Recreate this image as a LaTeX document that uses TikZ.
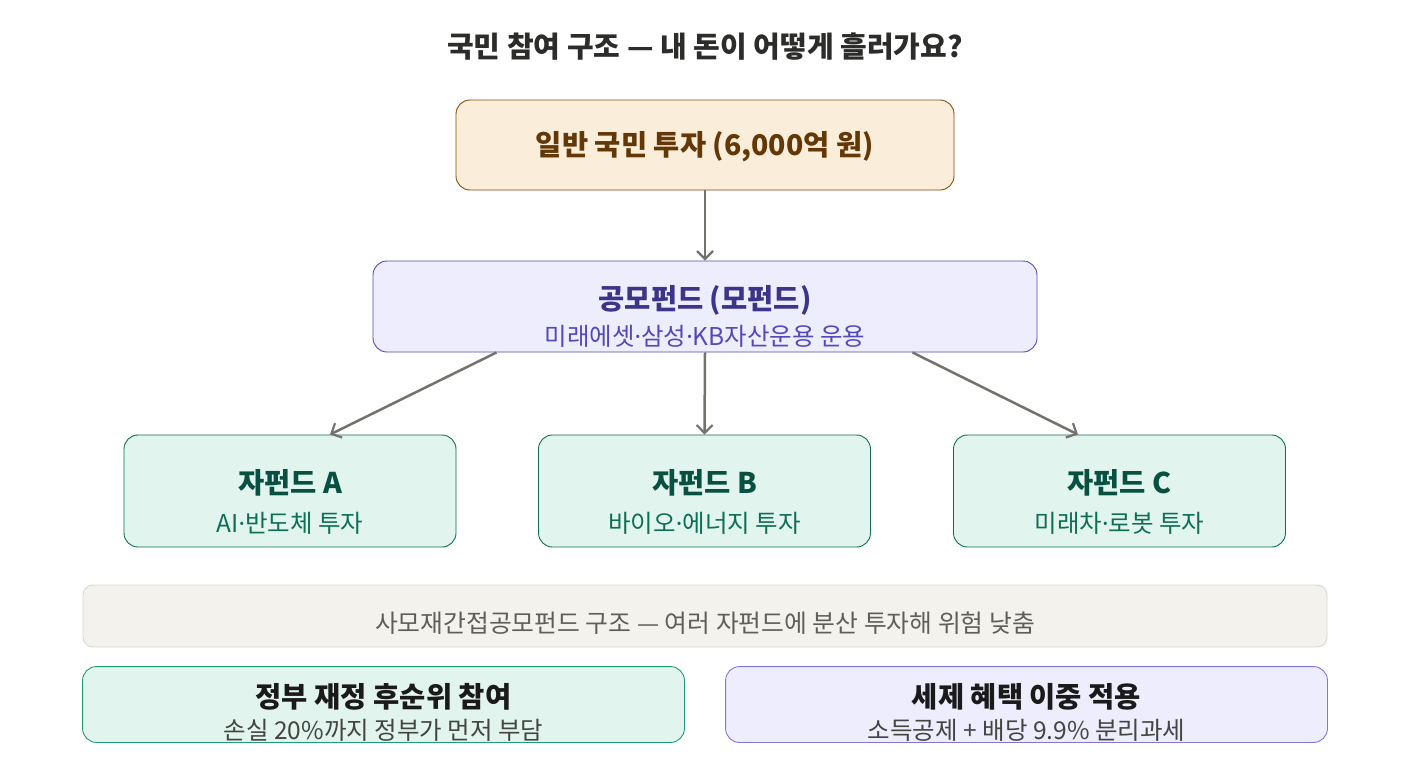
\documentclass[tikz,border=0pt]{standalone}
\usepackage{fontspec}
\setmainfont{Noto Sans CJK KR}
\newfontfamily\dotfont{Noto Sans}
\newcommand{\md}{{\dotfont ·}}
\usetikzlibrary{arrows.meta,calc}
\definecolor{titlec}{HTML}{2C2C2A}
\definecolor{topfill}{HTML}{FAEEDA}
\definecolor{topdraw}{HTML}{854F0B}
\definecolor{toptext}{HTML}{633806}
\definecolor{midfill}{HTML}{EEEDFE}
\definecolor{middraw}{HTML}{534AB7}
\definecolor{midtitle}{HTML}{3C3489}
\definecolor{midsub}{HTML}{534AB7}
\definecolor{kidfill}{HTML}{E1F5EE}
\definecolor{kiddraw}{HTML}{0F6E56}
\definecolor{kidtitle}{HTML}{085041}
\definecolor{kidsub}{HTML}{0F6E56}
\definecolor{notefill}{HTML}{F3F2EC}
\definecolor{notedraw}{HTML}{D8D6CE}
\definecolor{notetext}{HTML}{5F5E5A}
\definecolor{bldraw}{HTML}{1D9E75}
\definecolor{brdraw}{HTML}{7F77DD}
\definecolor{bottitle}{HTML}{1A1A1A}
\definecolor{botsub}{HTML}{444441}
\definecolor{arrowc}{HTML}{73726C}
\tikzset{
  box/.style={rounded corners=14pt, line width=0.9pt, inner sep=0pt, minimum width=#1},
  box/.default=300pt,
  ttl/.style={font=\fontsize{28.5}{32}\selectfont\bfseries, inner sep=0pt},
  sub/.style={font=\fontsize{24.5}{28}\selectfont, inner sep=0pt},
  flow/.style={draw=arrowc, line width=2.5pt, -{Straight Barb[length=8pt,width=16pt,line width=2.2pt]}},
}
\begin{document}
\begin{tikzpicture}[x=1pt,y=-1pt]
\useasboundingbox (0,0) rectangle (1410,768);
\fill[white] (0,0) rectangle (1410,768);
% title
\node[ttl, text=titlec, font=\fontsize{29}{33}\selectfont\bfseries] (title) at (705,47) {국민 참여 구조 — 내 돈이 어떻게 흘러가요?};
% top box
\node[box=498pt, minimum height=90pt, fill=topfill, draw=topdraw] (top) at (705,145) {};
\node[ttl, text=toptext] (toplbl) at (705,147) {일반 국민 투자 (6,000억 원)};
% middle box
\node[box=664pt, minimum height=91pt, fill=midfill, draw=middraw] (mid) at (705,306.5) {};
\node[ttl, text=midtitle] (midt) at (705,300) {공모펀드 (모펀드)};
\node[sub, text=midsub] (mids) at (705,336) {미래에셋\md 삼성\md KB자산운용 운용};
% children
\foreach \n/\x/\t/\s in {A/290/자펀드 A/AI\md 반도체 투자, B/704.5/자펀드 B/바이오\md 에너지 투자, C/1119.5/자펀드 C/미래차\md 로봇 투자}{
  \node[box=332pt, minimum height=112pt, fill=kidfill, draw=kiddraw] (\n) at (\x,491) {};
  \node[ttl, text=kidtitle] (\n t) at (\x,483) {\t};
  \node[sub, text=kidsub] (\n s) at (\x,523) {\s};
}
% arrows
\draw[flow] (top.south) -- (mid.north);
\draw[flow] ($(mid.south west)+(124,0)$) -- ($(A.north)+(40,0)$);
\draw[flow] (mid.south) -- (B.north);
\draw[flow] ($(mid.south east)+(-125,0)$) -- ($(C.north)+(-41.5,0)$);
% note bar
\node[box=1244pt, minimum height=62pt, rounded corners=10pt, fill=notefill, draw=notedraw] (note) at (705,616) {};
\node[sub, text=notetext, font=\fontsize{24.8}{28}\selectfont] (notet) at (705,623) {사모재간접공모펀드 구조 — 여러 자펀드에 분산 투자해 위험 낮춤};
% bottom boxes
\node[box=601pt, minimum height=75pt, fill=kidfill, draw=none] (bl) at (383.5,704.5) {};
\node[box=601pt, minimum height=75pt, fill=midfill, draw=none] (br) at (1026.5,704.5) {};
\begin{scope}
  \clip[rounded corners=14pt] (bl.south west) rectangle (bl.north east);
  \node[ttl, text=bottitle] (blt) at (383.5,697) {정부 재정 후순위 참여};
  \node[sub, text=botsub] (bls) at (383.5,730) {손실 20\%까지 정부가 먼저 부담};
\end{scope}
\begin{scope}
  \clip[rounded corners=14pt] (br.south west) rectangle (br.north east);
  \node[ttl, text=bottitle] (brt) at (1026.5,697) {세제 혜택 이중 적용};
  \node[sub, text=botsub] (brs) at (1026.5,730) {소득공제 + 배당 9.9\% 분리과세};
\end{scope}
\draw[rounded corners=14pt, line width=0.9pt, draw=bldraw] (bl.south west) rectangle (bl.north east);
\draw[rounded corners=14pt, line width=0.9pt, draw=brdraw] (br.south west) rectangle (br.north east);
\end{tikzpicture}
\end{document}
